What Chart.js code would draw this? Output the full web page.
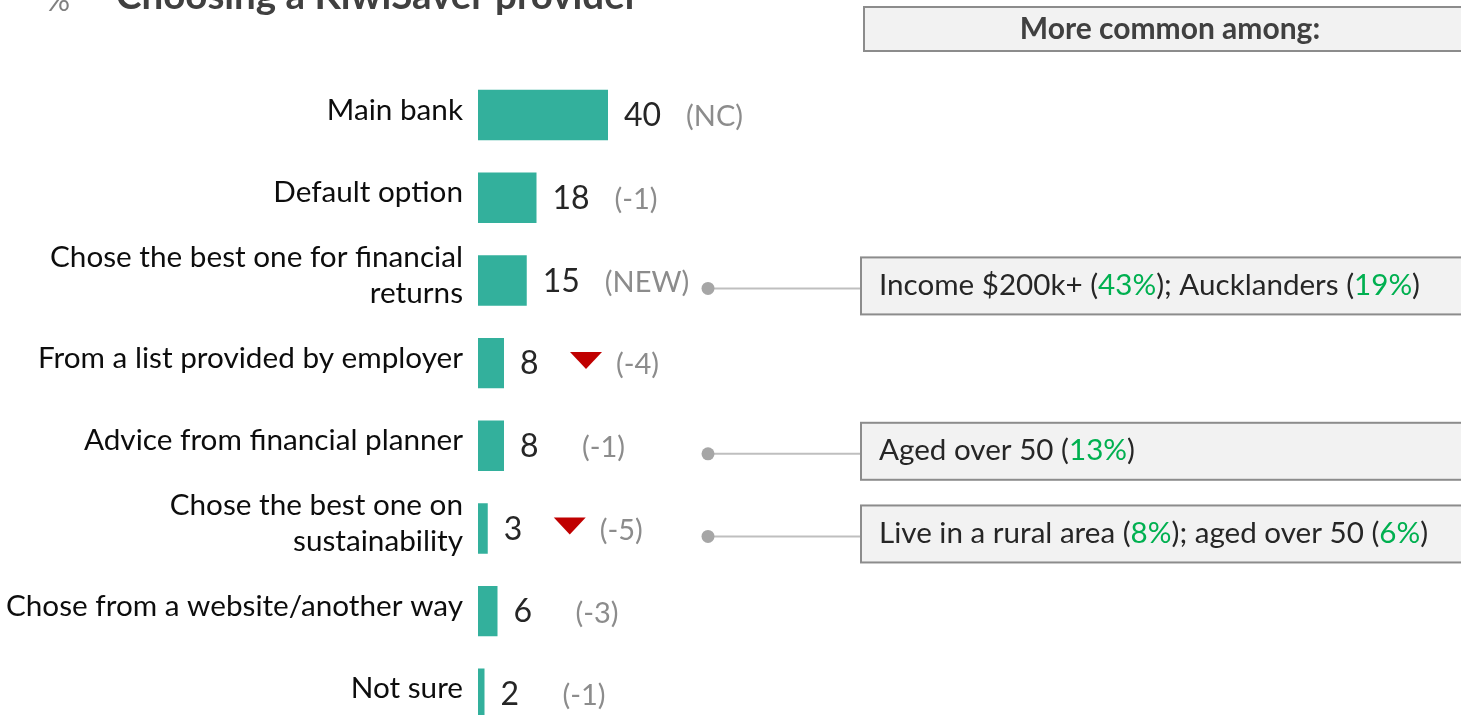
<!DOCTYPE html>
<html>
<head>
<meta charset="utf-8">
<script src="https://cdn.jsdelivr.net/npm/chart.js@4.4.0/dist/chart.umd.min.js"></script>
<style>
  html, body { margin: 0; padding: 0; background: #fff; overflow: hidden; }
  #wrap { position: absolute; left: 0; top: -40px; width: 1461px; height: 808px; }
</style>
</head>
<body>
<div id="wrap"><canvas id="chart" width="1461" height="808"></canvas></div>
<script>
const categories = [
  ['Main bank'],
  ['Default option'],
  ['Chose the best one for financial', 'returns'],
  ['From a list provided by employer'],
  ['Advice from financial planner'],
  ['Chose the best one on', 'sustainability'],
  ['Chose from a website/another way'],
  ['Not sure']
]
const values = [40, 18, 15, 8, 8, 3, 6, 2]
const changes = ['(NC)', '(-1)', '(NEW)', '(-4)', '(-1)', '(-5)', '(-3)', '(-1)']
const sigDown = [false, false, false, true, false, true, false, false]
// "more common among" notes, as [text, isGreen] pieces
const notes = [
  null,
  null,
  [['Income $200k+ (', 0], ['43%', 1], ['); Aucklanders (', 0], ['19%', 1], [')', 0]],
  null,
  [['Aged over 50 (', 0], ['13%', 1], [')', 0]],
  [['Live in a rural area (', 0], ['8%', 1], ['); aged over 50 (', 0], ['6%', 1], [')', 0]],
  null,
  null
]
const titleUnit = '%'
const titleText = 'Choosing a KiwiSaver provider'
const notesHeader = 'More common among:'

const OFF = 40 // canvas sits 40px above the window top (title is cut off)
Chart.defaults.font.family = 'Lato'

const extras = {
  id: 'extras',
  afterDraw(chart) {
    const ctx = chart.ctx
    ctx.save()
    // title, cut at top
    ctx.textBaseline = 'alphabetic'
    ctx.textAlign = 'left'
    ctx.fillStyle = '#808080'
    ctx.font = '30px Lato'
    ctx.fillText(titleUnit, 46, OFF + 11)
    ctx.fillStyle = '#404040'
    ctx.font = 'bold 38.5px Lato'
    ctx.fillText(titleText, 116, OFF + 9)

    // header box
    ctx.fillStyle = '#f2f2f2'
    ctx.strokeStyle = '#8c8c8c'
    ctx.lineWidth = 2
    ctx.fillRect(864, OFF + 7, 620, 44)
    ctx.strokeRect(864, OFF + 7, 620, 44)
    ctx.fillStyle = '#404040'
    ctx.font = 'bold 30px Lato'
    ctx.textAlign = 'center'
    ctx.textBaseline = 'middle'
    ctx.fillText(notesHeader, 1170, OFF + 29)

    const meta = chart.getDatasetMeta(0)
    meta.data.forEach((bar, i) => {
      const x = bar.x, y = bar.y
      ctx.textAlign = 'left'
      ctx.textBaseline = 'middle'
      ctx.fillStyle = '#262626'
      ctx.font = '32px Lato'
      ctx.fillText(values[i], x + 16, y + 1)

      let cx = x + 78
      if (sigDown[i]) {
        const tx = x + 82, ty = y - 3
        ctx.fillStyle = '#c00000'
        ctx.beginPath()
        ctx.moveTo(tx - 16, ty - 8)
        ctx.lineTo(tx + 16, ty - 8)
        ctx.lineTo(tx, ty + 9)
        ctx.closePath()
        ctx.fill()
        cx = x + 112
      }
      ctx.fillStyle = '#8c8c8c'
      ctx.font = '29px Lato'
      ctx.fillText(changes[i], cx, y + 2)

      if (notes[i]) {
        const by = y + 5
        ctx.strokeStyle = '#bfbfbf'
        ctx.lineWidth = 2
        ctx.beginPath()
        ctx.moveTo(708, by + 3)
        ctx.lineTo(861, by + 3)
        ctx.stroke()
        ctx.fillStyle = '#a6a6a6'
        ctx.beginPath()
        ctx.arc(708, by + 3, 6.5, 0, Math.PI * 2)
        ctx.fill()
        ctx.fillStyle = '#f2f2f2'
        ctx.strokeStyle = '#8c8c8c'
        ctx.fillRect(861, by - 28, 620, 57)
        ctx.strokeRect(861, by - 28, 620, 57)
        let tx = 879
        ctx.font = '29.6px Lato'
        notes[i].forEach(([t, g]) => {
          ctx.fillStyle = g ? '#00b050' : '#262626'
          ctx.fillText(t, tx, by)
          tx += ctx.measureText(t).width
        })
      }
    })
    ctx.restore()
  }
}

const chartConfig = {
  type: 'bar',
  data: {
    labels: categories,
    datasets: [{
      data: values,
      backgroundColor: '#33b09c',
      borderWidth: 0,
      categoryPercentage: 1,
      barPercentage: 0.61
    }]
  },
  options: {
    indexAxis: 'y',
    responsive: false,
    animation: false,
    // bottom space comes from the last tick label (half height + padding)
    layout: { padding: { top: 113.7, bottom: 0, right: 8, left: 0 } },
    plugins: { legend: { display: false }, tooltip: { enabled: false } },
    scales: {
      x: { min: 0, max: 300, display: false },
      y: {
        grid: { display: false, drawTicks: false },
        border: { display: false },
        afterFit(scale) { scale.width = 478 },
        ticks: {
          padding: 15,
          labelOffset: -5,
          color: '#0d0d0d',
          font: { size: 29.7, lineHeight: 1.2 }
        }
      }
    }
  },
  plugins: [extras]
}

var chrt = document.getElementById('chart').getContext('2d')
var perfBarChart = new Chart(chrt, chartConfig)
</script>
</body>
</html>
